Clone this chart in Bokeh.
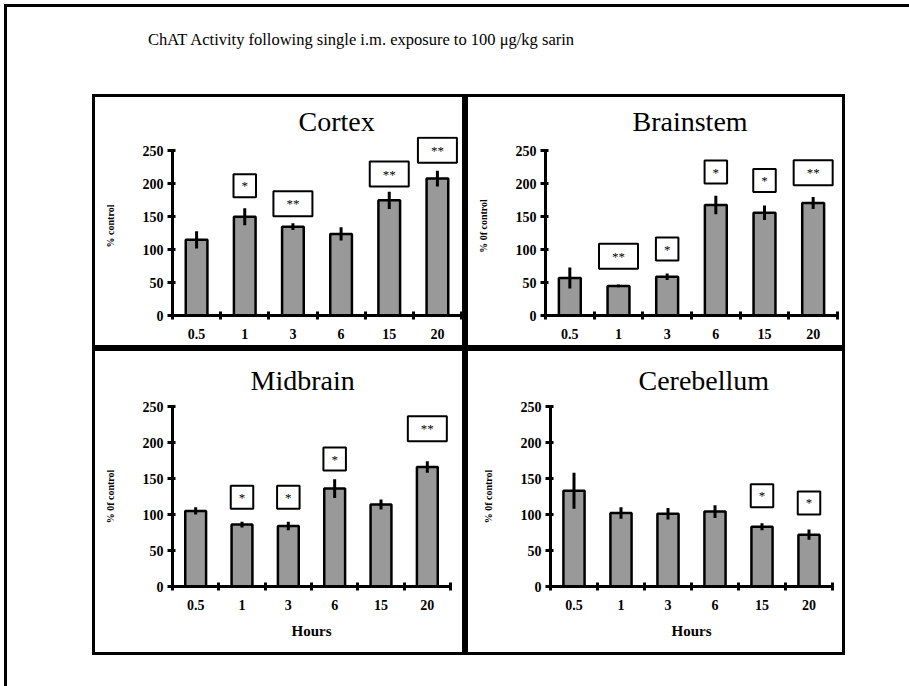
from bokeh.plotting import figure
from bokeh.layouts import column, row
from bokeh.models import FixedTicker, Div, Label, Range1d
from bokeh.embed import file_html
from bokeh.resources import INLINE

# ---------------- data ----------------
hours = ["0.5", "1", "3", "6", "15", "20"]
y_ticks = [0, 50, 100, 150, 200, 250]

cortex_mean = [115, 150, 135, 124, 175, 208]
cortex_err = [13, 13, 5, 10, 13, 12]
cortex_sig = ["", "*", "**", "", "**", "**"]
cortex_sig_y = [0, 197, 170, 0, 215, 251]

brainstem_mean = [57, 45, 59, 168, 156, 171]
brainstem_err = [16, 2, 5, 14, 11, 9]
brainstem_sig = ["", "**", "*", "*", "*", "**"]
brainstem_sig_y = [0, 90, 101, 218, 205, 217]

midbrain_mean = [105, 86, 84, 136, 114, 166]
midbrain_err = [5, 4, 6, 13, 7, 8]
midbrain_sig = ["", "*", "*", "*", "", "**"]
midbrain_sig_y = [0, 124, 124, 177, 0, 219]

cerebellum_mean = [133, 102, 101, 104, 83, 72]
cerebellum_err = [25, 8, 8, 9, 5, 7]
cerebellum_sig = ["", "", "", "", "*", "*"]
cerebellum_sig_y = [0, 0, 0, 0, 126, 116]

main_title = "ChAT Activity following single i.m. exposure to 100 \u03bcg/kg sarin"

SERIF = "Liberation Serif"


def panel(name, ylabel, mean, err, sig, sig_y, width, height, borders,
          title_offset, title_standoff, y_max=250, xlabel=None):
    n = len(hours)
    xs = [i + 0.5 for i in range(n)]
    bl, br, bt, bb = borders
    p = figure(width=width, height=height, x_range=Range1d(0, n), y_range=Range1d(0, y_max),
               output_backend="svg", toolbar_location=None,
               min_border_left=bl, min_border_right=br, min_border_top=bt, min_border_bottom=bb,
               styles={"border": "3px solid black"})
    p.grid.visible = False
    p.outline_line_color = None

    p.vbar(x=xs, top=mean, bottom=0, width=0.45, fill_color="#999999",
           line_color="black", line_width=2.5)
    p.segment(x0=xs, y0=[m - e for m, e in zip(mean, err)],
              x1=xs, y1=[m + e for m, e in zip(mean, err)],
              line_color="black", line_width=3)

    for x, s, y in zip(xs, sig, sig_y):
        if not s:
            continue
        pad = (13, 13, 5, 5) if len(s) > 1 else (8, 8, 4, 4)
        p.add_layout(Label(x=x, y=y, text=s, text_align="center", text_baseline="middle",
                           text_font=SERIF, text_font_size="13px", text_color="black",
                           background_fill_color="white", border_line_color="black",
                           border_line_width=2, padding=pad))

    # title
    p.title.text = name
    p.title.text_font = SERIF
    p.title.text_font_size = "28px"
    p.title.text_font_style = "normal"
    p.title.text_color = "black"
    p.title.align = "left"
    p.title.offset = title_offset
    p.title.standoff = title_standoff

    # x axis: labels at category centres, ticks at category boundaries
    xa = p.xaxis[0]
    xa.ticker = FixedTicker(ticks=xs, minor_ticks=list(range(n + 1)))
    xa.major_label_overrides = {x: h for x, h in zip(xs, hours)}
    xa.major_tick_in = 0
    xa.major_tick_out = 0
    xa.minor_tick_in = 4
    xa.minor_tick_out = 4
    xa.minor_tick_line_width = 3
    xa.minor_tick_line_color = "black"
    xa.axis_line_width = 3
    xa.axis_line_color = "black"
    xa.major_label_standoff = 9
    xa.major_label_text_font = SERIF
    xa.major_label_text_font_style = "bold"
    xa.major_label_text_font_size = "14px"
    xa.major_label_text_color = "black"
    if xlabel:
        xa.axis_label = xlabel
        xa.axis_label_text_font = SERIF
        xa.axis_label_text_font_style = "bold"
        xa.axis_label_text_font_size = "15px"
        xa.axis_label_text_color = "black"
        xa.axis_label_standoff = 10

    ya = p.yaxis[0]
    ya.ticker = FixedTicker(ticks=y_ticks)
    ya.bounds = (0, 250)
    ya.major_tick_in = 3
    ya.major_tick_out = 5
    ya.major_tick_line_width = 3
    ya.major_tick_line_color = "black"
    ya.minor_tick_line_color = None
    ya.axis_line_width = 3
    ya.axis_line_color = "black"
    ya.major_label_text_font = SERIF
    ya.major_label_text_font_style = "bold"
    ya.major_label_text_font_size = "14px"
    ya.major_label_text_color = "black"
    ya.major_label_standoff = 4
    ya.axis_label = ylabel
    ya.axis_label_text_font = SERIF
    ya.axis_label_text_font_style = "bold"
    ya.axis_label_text_font_size = "10px"
    ya.axis_label_text_color = "black"
    ya.axis_label_standoff = 24
    return p


cortex = panel("Cortex", "% control", cortex_mean, cortex_err, cortex_sig, cortex_sig_y,
               373, 254, (77, 7, 39, 36), 126, 0, y_max=272)
brainstem = panel("Brainstem", "% 0f control", brainstem_mean, brainstem_err, brainstem_sig,
                  brainstem_sig_y, 380, 254, (77, 11, 39, 36), 87, 0, y_max=272)
midbrain = panel("Midbrain", "% 0f control", midbrain_mean, midbrain_err, midbrain_sig,
                 midbrain_sig_y, 373, 307, (77, 18, 55, 72), 78, 21, xlabel="Hours")
cerebellum = panel("Cerebellum", "% 0f control", cerebellum_mean, cerebellum_err, cerebellum_sig,
                   cerebellum_sig_y, 380, 307, (82, 16, 55, 72), 88, 21, xlabel="Hours")

title_div = Div(text=main_title, width=520, height=20, margin=(23, 0, 0, 141),
                styles={"font-family": "'Liberation Serif', serif", "font-size": "16.5px",
                        "line-height": "20px", "white-space": "nowrap", "color": "black"})

top = row(cortex, brainstem, margin=(44, 0, 0, 85))
bottom = row(midbrain, cerebellum, margin=(0, 0, 0, 85))

page = column(title_div, top, bottom, width=905, height=690, margin=(4, 0, 0, 4),
              styles={"border-top": "3px solid black", "border-left": "3px solid black",
                      "background-color": "white"})

open("out.html", "w").write(file_html(page, INLINE, title="ChAT Activity"))
